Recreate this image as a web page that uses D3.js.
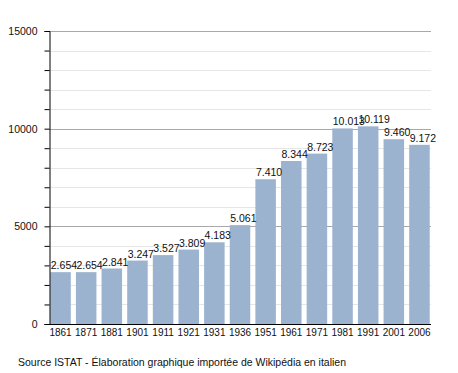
<!DOCTYPE html>
<html>
<head>
<meta charset="utf-8">
<script src="https://cdn.jsdelivr.net/npm/d3@7"></script>
<style>
body{margin:0;background:#fff;}
text{font-family:"Liberation Sans",Arial,sans-serif;}
</style>
</head>
<body>
<script>
var w = 458, h = 373;
var years = ["1861","1871","1881","1901","1911","1921","1931","1936","1951","1961","1971","1981","1991","2001","2006"];
var pop = [2654,2654,2841,3247,3527,3809,4183,5061,7410,8344,8723,10013,10119,9460,9172];
var labels = ["2.654","2.654","2.841","3.247","3.527","3.809","4.183","5.061","7.410","8.344","8.723","10.013","10.119","9.460","9.172"];
var majorTicks = [0,5000,10000,15000];
var minorTicks = d3.range(0,15001,1000);
var source = "Source ISTAT - Élaboration graphique importée de Wikipédia en italien";

var svg = d3.select("body").append("svg").attr("width",w).attr("height",h);

var pLeft = 49, pRight = 431, pTop = 31, pBottom = 324;
var x = d3.scaleBand().domain(years).range([pLeft,pRight]).paddingInner(0.2).paddingOuter(0.05);
var y = d3.scaleLinear().domain([0,15000]).range([pBottom,pTop]);

// gridlines
svg.append("g").selectAll("line").data(minorTicks.filter(function(d){return d%5000!=0;}))
  .enter().append("line")
  .attr("x1",pLeft).attr("x2",pRight)
  .attr("y1",function(d){return Math.round(y(d))+0.5;}).attr("y2",function(d){return Math.round(y(d))+0.5;})
  .attr("stroke","#e6e6e6");
svg.append("g").selectAll("line").data(majorTicks.filter(function(d){return d>0;}))
  .enter().append("line")
  .attr("x1",pLeft).attr("x2",pRight)
  .attr("y1",function(d){return Math.round(y(d))+0.5;}).attr("y2",function(d){return Math.round(y(d))+0.5;})
  .attr("stroke","#a8a8a8");

// bars
svg.append("g").selectAll("rect").data(pop).enter().append("rect")
  .attr("x",function(d,i){return x(years[i]);})
  .attr("y",function(d){return y(d);})
  .attr("width",x.bandwidth())
  .attr("height",function(d){return pBottom-y(d);})
  .attr("fill","#9bb3cf");

// value labels
svg.append("g").selectAll("text").data(pop).enter().append("text")
  .attr("x",function(d,i){return x(years[i])+0.5;})
  .attr("y",function(d){return y(d)-3;})
  .attr("font-size","10.5px")
  .attr("fill","#111")
  .text(function(d,i){return labels[i];});

// y axis
var yAxis = d3.axisLeft(y).tickValues(minorTicks).tickSize(5)
  .tickFormat(function(d){return d%5000==0 ? d : "";});
var ga = svg.append("g").attr("transform","translate("+(pLeft+0.5)+",0)").call(yAxis);
ga.select(".domain").attr("stroke","#000");
ga.selectAll(".tick line").attr("stroke","#000");
ga.selectAll(".tick text").attr("x",-12).attr("font-size","10.5px").attr("fill","#111")
  .attr("font-family","Liberation Sans, Arial, sans-serif");

// x axis
var xAxis = d3.axisBottom(x).tickSize(0).tickPadding(4);
var gx = svg.append("g").attr("transform","translate(0,"+(pBottom+0.5)+")").call(xAxis);
gx.select(".domain").attr("stroke","#000").attr("d","M"+pLeft+",0H"+pRight);
gx.selectAll(".tick text").attr("font-size","10px").attr("fill","#111")
  .attr("font-family","Liberation Sans, Arial, sans-serif");

svg.append("text").attr("x",18).attr("y",366).attr("font-size","10.5px").attr("fill","#111")
  .text(source);
</script>
</body>
</html>
